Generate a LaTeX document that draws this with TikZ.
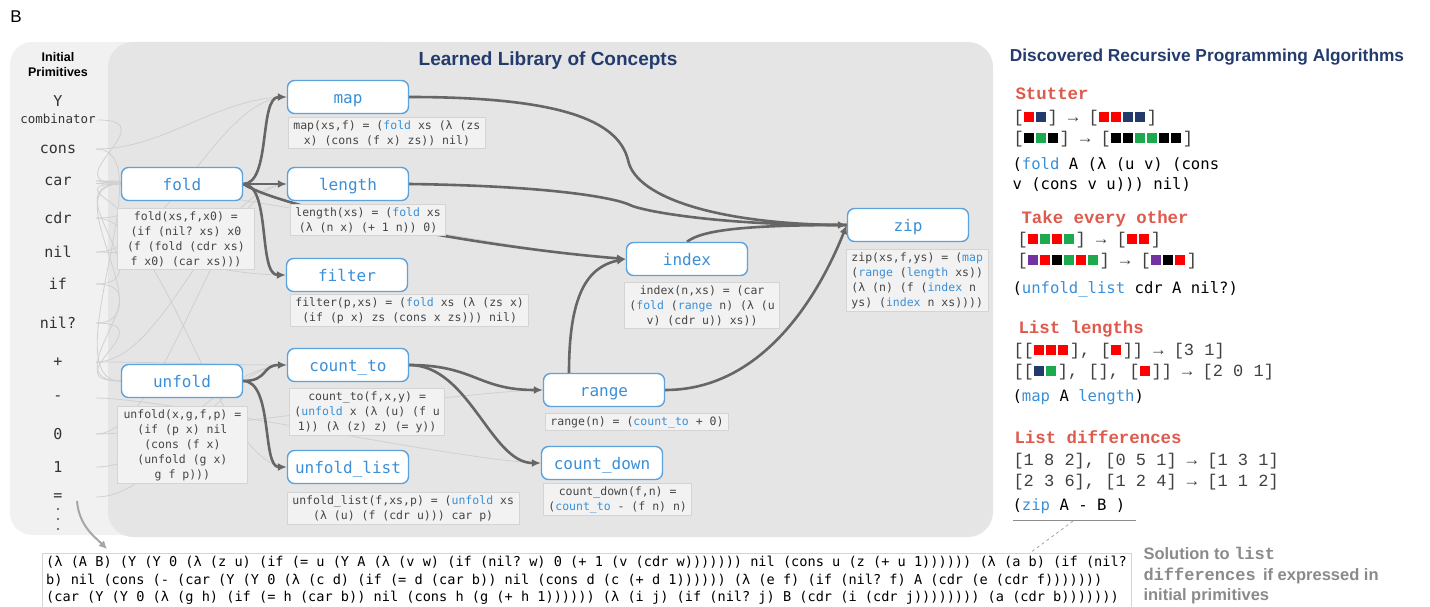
\documentclass[tikz,border=0pt]{standalone}
\usepackage{fontspec}
\setmainfont{Liberation Sans}
\setmonofont{DejaVu Sans Mono}
\newfontfamily\courier{Liberation Mono}
\usetikzlibrary{arrows.meta,backgrounds}

\definecolor{conceptblue}{HTML}{3A8FD8}
\definecolor{nodeblue}{HTML}{5CA2DC}
\definecolor{titleblue}{HTML}{243B6E}
\definecolor{edgegray}{HTML}{666666}
\definecolor{faintgray}{HTML}{D0D0D0}
\definecolor{boxfill}{HTML}{F2F2F2}
\definecolor{boxline}{HTML}{D4D4D4}
\definecolor{codegray}{HTML}{454545}
\definecolor{panelin}{HTML}{E5E5E5}
\definecolor{panelout}{HTML}{F1F1F1}
\definecolor{taskred}{HTML}{DD5A4C}
\definecolor{sqred}{HTML}{FF0000}
\definecolor{sqnavy}{HTML}{233B6C}
\definecolor{sqgreen}{HTML}{1DAA4F}
\definecolor{sqpurple}{HTML}{7232A0}
\definecolor{notegray}{HTML}{8A8A8A}

\newcommand{\kw}[1]{\textcolor{conceptblue}{#1}}
\newcommand{\sq}[1]{\textcolor{#1}{\rule{10pt}{10pt}}\hspace{2pt}}

\tikzset{
  concept/.style={draw=nodeblue, line width=1.4pt, rounded corners=7pt, fill=white,
    minimum width=121pt, minimum height=33pt, text height=13pt, text depth=0pt,
    text=conceptblue, font=\ttfamily\fontsize{16}{16}\selectfont},
  codebox/.style={draw=boxline, line width=0.8pt, fill=boxfill, text=codegray,
    align=center, inner xsep=5pt, inner ysep=3pt, anchor=north west,
    font=\ttfamily\fontsize{11.5}{15}\selectfont},
  prim/.style={text=black!80, font=\ttfamily\fontsize{15}{15}\selectfont},
  uses/.style={draw=edgegray, line width=2.6pt, -{Latex[length=9pt,width=8pt]}},
  joins/.style={draw=edgegray, line width=2.6pt},
  faint/.style={draw=faintgray, line width=0.8pt},
  task/.style={anchor=west, text=taskred, font=\courier\bfseries\fontsize{17.4}{17.4}\selectfont},
  example/.style={anchor=west, text=black!75, font=\courier\fontsize{17}{17}\selectfont},
  algo/.style={anchor=north west, align=left, text=black, font=\ttfamily\fontsize{15.6}{20}\selectfont},
}

\begin{document}
\begin{tikzpicture}[x=1pt, y=-1pt]
    \useasboundingbox (0,0) rectangle (1430,607);

    % Panels behind everything
    \begin{scope}[on background layer]
        \fill[panelout, rounded corners=22pt] (10,42) rectangle (400,535);
        \fill[panelin, rounded corners=25pt] (108,42) rectangle (993,537);
    \end{scope}

    \node[font=\fontsize{17}{17}\selectfont] (fig-label) at (16,17) {B};

    % Initial primitives
    \node[font=\bfseries\fontsize{12.5}{15}\selectfont, align=center] (prim-title) at (58,65) {Initial\\Primitives};
    \node[prim] (ycomb) at (58,101) {Y};
    \node[prim, font=\ttfamily\fontsize{12.5}{12.5}\selectfont] (combinator) at (58,119) {combinator};
    \coordinate (ycomb-out) at (98,120);
    \foreach \name/\txt/\y in {
        cons/cons/149, car/car/181, cdr/cdr/218, nil/nil/252, if/if/284, nilq/nil?/323,
        plus/+/362, minus/-/398, zero/0/434, one/1/467, eq/=/497}{
        \node[prim] (\name) at (58,\y) {\txt};
        \coordinate (\name-out) at (96,\y);
    }
    \foreach \y in {509,519,529}
        \fill[black!70] (58,\y) circle (1.1pt);

    % Learned library
    \node[text=titleblue, font=\bfseries\fontsize{19}{19}\selectfont] (lib-title) at (548,61) {Learned Library of Concepts};

    \node[concept] (map) at (348,97) {map};
    \node[concept] (fold) at (182,184) {fold};
    \node[concept] (length) at (348,184) {length};
    \node[concept] (filter) at (347,275) {filter};
    \node[concept] (unfold) at (182,381) {unfold};
    \node[concept] (countto) at (348,365) {count\_to};
    \node[concept] (unfoldlist) at (348,467) {unfold\_list};
    \node[concept] (index) at (687,259) {index};
    \node[concept] (zip) at (908,225) {zip};
    \node[concept] (range) at (604,390) {range};
    \node[concept] (countdown) at (602,463) {count\_down};

    % Definitions under each concept
    \node[codebox] (map-def) at (288,117) {map(xs,f) = (\kw{fold} xs (λ (zs\\x) (cons (f x) zs)) nil)};
    \node[codebox, minimum width=137pt] (fold-def) at (117,208) {fold(xs,f,x0) =\\(if (nil? xs) x0\\(f (fold (cdr xs)\\f x0) (car xs)))};
    \node[codebox] (length-def) at (290,204) {length(xs) = (\kw{fold} xs\\(λ (n x) (+ 1 n)) 0)};
    \node[codebox] (filter-def) at (290,294) {filter(p,xs) = (\kw{fold} xs (λ (zs x)\\(if (p x) zs (cons x zs))) nil)};
    \node[codebox, minimum width=130pt] (unfold-def) at (117,406) {unfold(x,g,f,p) =\\(if (p x) nil\\(cons (f x)\\(unfold (g x)\\g f p)))};
    \node[codebox] (countto-def) at (289,388) {count\_to(f,x,y) =\\(\kw{unfold} x (λ (u) (f u\\1)) (λ (z) z) (= y))};
    \node[codebox] (unfoldlist-def) at (287,492) {unfold\_list(f,xs,p) = (\kw{unfold} xs\\(λ (u) (f (cdr u))) car p)};
    \node[codebox] (index-def) at (624,282) {index(n,xs) = (car\\(\kw{fold} (\kw{range} n) (λ (u\\v) (cdr u)) xs))};
    \node[codebox, align=left] (zip-def) at (846,249) {zip(xs,f,ys) = (\kw{map}\\(\kw{range} (\kw{length} xs))\\(λ (n) (f (\kw{index} n\\ys) (\kw{index} n xs))))};
    \node[codebox] (range-def) at (545,413) {range(n) = (\kw{count\_to} + 0)};
    \node[codebox] (countdown-def) at (543,483) {count\_down(f,n) =\\(\kw{count\_to} - (f n) n)};

    \coordinate (mapbend) at (628,160);
    \coordinate (lenbend) at (630,205);

    % Connectors, kept behind the boxes
    \begin{scope}[on background layer]
        % faint links from the primitives
        \foreach \src/\dst in {
            ycomb/fold, cons/map, cons/unfold, car/fold, car/index,
            cdr/fold, cdr/unfoldlist, nil/map, nil/filter, if/fold,
            if/unfold, nilq/fold, nilq/unfold, plus/length, plus/countto,
            minus/countdown, zero/range, zero/length, one/countto, eq/countto}
            \draw[faint] (\src-out) .. controls +(70,0) and +(-70,0) .. (\dst.west);

        \draw[uses] (fold.east) .. controls +(28,0) and +(-28,0) .. (map.west);
        \draw[uses] (fold.east) -- (length.west);
        \draw[uses] (fold.east) .. controls +(28,0) and +(-28,0) .. (filter.west);
        \draw[uses] (fold.east) .. controls +(40,25) and +(-150,-12) .. (index.west);
        \draw[uses] (unfold.east) .. controls +(25,0) and +(-25,0) .. (countto.west);
        \draw[uses] (unfold.east) .. controls +(30,0) and +(-25,0) .. (unfoldlist.west);
        \draw[uses] (countto.east) .. controls +(65,0) and +(-65,0) .. (range.west);
        \draw[uses] (countto.east) .. controls +(60,0) and +(-50,0) .. (countdown.west);
        \draw[uses] ([xshift=-35pt]range.north) .. controls +(0,-75) and +(-40,8) .. (index.west);
        \draw[joins] (map.east) .. controls +(150,0) and +(-10,-40) .. (mapbend)
            .. controls +(8,40) and +(-120,0) .. (zip.west);
        \draw[joins] (index.north) .. controls +(15,-12) and +(-100,0) .. (zip.west);
        \draw[uses] (length.east) .. controls +(150,2) and +(-12,-6) .. (lenbend)
            .. controls +(12,6) and +(-130,0) .. (zip.west);
        \draw[uses] (range.east) .. controls +(110,0) and +(-18,45) .. (zip.west);
    \end{scope}

    % Discovered algorithms
    \node[text=titleblue, font=\bfseries\fontsize{17.3}{17.3}\selectfont] (alg-title) at (1207,57) {Discovered Recursive Programming Algorithms};

    \node[task] (stutter) at (1012,94) {Stutter};
    \node[example] (stutter-a) at (1010,118) {[\sq{sqred}\sq{sqnavy}] → [\sq{sqred}\sq{sqred}\sq{sqnavy}\sq{sqnavy}]};
    \node[example] (stutter-b) at (1010,139) {[\sq{black}\sq{sqgreen}\sq{black}] → [\sq{black}\sq{black}\sq{sqgreen}\sq{sqgreen}\sq{black}\sq{black}]};
    \node[algo] (stutter-sol) at (1009,154) {(\kw{fold} A (λ (u v) (cons\\v (cons v u))) nil)};

    \node[task] (other) at (1018,219) {Take every other};
    \node[example] (other-a) at (1014,240) {[\sq{sqred}\sq{sqgreen}\sq{sqred}\sq{sqgreen}] → [\sq{sqred}\sq{sqred}]};
    \node[example] (other-b) at (1014,261) {[\sq{sqpurple}\sq{sqred}\sq{black}\sq{sqgreen}\sq{sqred}\sq{sqgreen}] → [\sq{sqpurple}\sq{black}\sq{sqred}]};
    \node[algo] (other-sol) at (1009,278) {(\kw{unfold\_list} cdr A nil?)};

    \node[task] (lengths) at (1015,329) {List lengths};
    \node[example] (lengths-a) at (1010,351) {[[\sq{sqred}\sq{sqred}\sq{sqred}], [\sq{sqred}]] → [3 1]};
    \node[example] (lengths-b) at (1010,372) {[[\sq{sqnavy}\sq{sqgreen}], [], [\sq{sqred}]] → [2 0 1]};
    \node[algo] (lengths-sol) at (1009,386) {(\kw{map} A \kw{length})};

    \node[task] (diffs) at (1011,437) {List differences};
    \node[example] (diffs-a) at (1010,461) {[1 8 2], [0 5 1] → [1 3 1]};
    \node[example] (diffs-b) at (1010,482) {[2 3 6], [1 2 4] → [1 1 2]};
    \node[algo] (diffs-sol) at (1009,495) {(\kw{zip} A - B )};

    \coordinate (under-left) at (1013,520);
    \coordinate (under-right) at (1136,520);
    \coordinate (under-mid) at (1073,521);
    \coordinate (sol-pin) at (1026,556);
    \draw[black!45, line width=0.9pt] (under-left) -- (under-right);
    \draw[black!35, line width=0.8pt, dashed] (under-mid) -- (sol-pin);

    % Solution written in the initial primitives
    \node[anchor=north west, draw=boxline, fill=white, align=left, inner xsep=4pt, inner ysep=3pt,
        font=\ttfamily\fontsize{13.6}{17.5}\selectfont] (prims-sol) at (42,553)
        {(λ (A B) (Y (Y 0 (λ (z u) (if (= u (Y A (λ (v w) (if (nil? w) 0 (+ 1 (v (cdr w))))))) nil (cons u (z (+ u 1)))))) (λ (a b) (if (nil?\\
         b) nil (cons (- (car (Y (Y 0 (λ (c d) (if (= d (car b)) nil (cons d (c (+ d 1)))))) (λ (e f) (if (nil? f) A (cdr (e (cdr f)))))))\\
         (car (Y (Y 0 (λ (g h) (if (= h (car b)) nil (cons h (g (+ h 1)))))) (λ (i j) (if (nil? j) B (cdr (i (cdr j)))))))) (a (cdr b)))))))};

    \coordinate (sol-start) at (77,501);
    \coordinate (sol-end) at (107,549);
    \draw[black!35, line width=2pt, -{Latex[length=8pt,width=8pt]}] (sol-start) .. controls +(2,25) and +(-12,-12) .. (sol-end);

    \node[anchor=north west, text=notegray, align=left,
        font=\bfseries\fontsize{16.5}{20.5}\selectfont] (sol-note) at (1140,544)
        {Solution to {\courier\fontsize{17}{17}\selectfont list}\\{\courier\fontsize{17}{17}\selectfont differences}\, if expressed in\\initial primitives};
\end{tikzpicture}
\end{document}
